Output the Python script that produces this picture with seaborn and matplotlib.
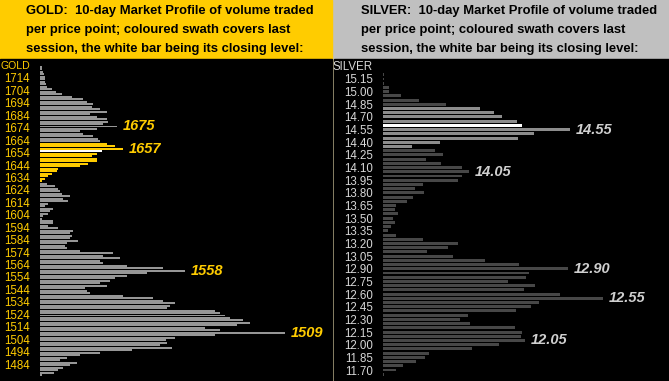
import numpy as np
import pandas as pd
import seaborn as sns
import matplotlib.pyplot as plt
from matplotlib.patches import Rectangle

# gold: volume per $2 price level, top to bottom
gold_levels = list(range(1723, 1474, -2))
gold_volume = [2, 2, 3, 4, 5, 5, 5, 6, 7, 12,
               16, 22, 32, 43, 47, 53, 52, 60, 67, 50,
               57, 67, 68, 63, 77, 57, 40, 43, 53, 58,
               60, 67, 75, 83, 62, 57, 52, 57, 57, 48,
               40, 18, 17, 12, 8, 5, 2, 7, 15, 18,
               20, 22, 30, 23, 28, 8, 5, 13, 10, 8,
               3, 2, 13, 13, 8, 18, 33, 30, 32, 30,
               38, 27, 25, 27, 40, 73, 63, 80, 60, 63,
               87, 123, 145, 107, 87, 75, 70, 60, 67, 45,
               47, 50, 83, 113, 123, 135, 130, 127, 175, 180,
               185, 190, 203, 210, 197, 165, 180, 245, 175, 135,
               126, 127, 120, 132, 92, 60, 40, 27, 20, 37,
               30, 23, 18, 14, 2]
gold_swath = (1631, 1661)
gold_close = 1655
gold_ticks = list(range(1714, 1483, -10))
gold_peaks = [1675, 1657, 1559, 1509]
gold_peak_text = ["1675", "1657", "1558", "1509"]

# silver: volume per 5c price level, top to bottom
silver_levels = [round(v / 100, 2) for v in range(1520, 1164, -5)]
silver_volume = [1, 1, 1, 6, 6, 18, 36, 63, 97, 111,
                 119, 134, 139, 187, 151, 135, 57, 29, 52, 60,
                 43, 58, 79, 86, 79, 75, 40, 32, 41, 30,
                 24, 13, 12, 15, 10, 12, 8, 5, 13, 40,
                 75, 65, 44, 70, 102, 136, 185, 146, 143, 125,
                 152, 141, 177, 220, 156, 148, 133, 85, 77, 87,
                 132, 139, 138, 142, 116, 89, 46, 42, 33, 20,
                 13, 1]
silver_swath = (14.35, 14.80)
silver_close = 14.60
silver_ticks = [round(v / 100, 2) for v in range(1515, 1169, -15)]
silver_peaks = [14.55, 14.05, 12.90, 12.55, 12.05]
silver_peak_text = ["14.55", "14.05", "12.90", "12.55", "12.05"]

W, H = 669, 381
plt.rcParams['font.family'] = ['Liberation Sans', 'DejaVu Sans']
fig = plt.figure(figsize=(W / 100, H / 100), dpi=100, facecolor="#c0c0c0")


def px(x, y):
    return x / W, 1 - y / H


# backgrounds (behind the axes)
fig.patches.append(Rectangle((0, 0), 332 / W, 1, transform=fig.transFigure, color="#ffcc00", zorder=-2))
fig.patches.append(Rectangle((0, 0), 332 / W, 1 - 59 / H, transform=fig.transFigure, color="black", zorder=-1))
fig.patches.append(Rectangle((334 / W, 0), 335 / W, 1 - 59 / H, transform=fig.transFigure, color="black", zorder=-1))

title_lines = ["10-day Market Profile of volume traded",
               "per price point; coloured swath covers last",
               "session, the white bar being its closing level:"]
for name, x0 in [("GOLD:  ", 26), ("SILVER:  ", 361)]:
    for i, line in enumerate(title_lines):
        fig.text(*px(x0, 11 + i * 19), (name + line) if i == 0 else line,
                 fontsize=9.4, fontweight="bold", color="black", va="center", ha="left")


def kinds(levels, swath, close):
    out = []
    for p in levels:
        if abs(p - close) < 1e-6:
            out.append("close")
        elif swath[0] - 1e-6 <= p <= swath[1] + 1e-6:
            out.append("swath")
        else:
            out.append("rest")
    return out


# gold panel
df_gold = pd.DataFrame({"price": gold_levels, "vol": gold_volume,
                        "kind": kinds(gold_levels, gold_swath, gold_close)})
ax1 = fig.add_axes([40 / W, 0, 292 / W, 1 - 59 / H])
sns.barplot(data=df_gold, x="vol", y="price", hue="kind", orient="y", native_scale=True,
            palette={"rest": "#969696", "swath": "#ffcc00", "close": "white"},
            dodge=False, width=0.8, saturation=1, linewidth=0, errorbar=None, legend=False, ax=ax1)
ax1.set_xlim(0, 292)
ax1.set_ylim(1484 - 17 / 1.2435, 1714 + 19 / 1.2435)
ax1.set_yticks(gold_ticks)
ax1.set_yticklabels([str(t) for t in gold_ticks], color="#ffcc00", fontsize=8.3)
ax1.tick_params(axis="y", length=0, pad=7)
ax1.set_xticks([])
ax1.set_xlabel("")
ax1.set_ylabel("")
ax1.set_facecolor("none")
for s in ax1.spines.values():
    s.set_visible(False)
ax1.text(-10, 1714 + 12 / 1.2435, "GOLD", ha="right", va="center", color="#ffcc00", fontsize=7.6)
for p, t in zip(gold_peaks, gold_peak_text):
    v = gold_volume[gold_levels.index(p)]
    ax1.annotate(t, (v, p), xytext=(4, 0), textcoords="offset points", ha="left", va="center",
                 color="#ffcc00", fontsize=10.5, fontweight="bold", fontstyle="italic")

# silver panel
df_silver = pd.DataFrame({"price": silver_levels, "vol": silver_volume,
                          "kind": kinds(silver_levels, silver_swath, silver_close)})
ax2 = fig.add_axes([383 / W, 0, 286 / W, 1 - 59 / H])
sns.barplot(data=df_silver, x="vol", y="price", hue="kind", orient="y", native_scale=True,
            palette={"rest": "#474747", "swath": "#8c8c8c", "close": "white"},
            dodge=False, width=0.7, saturation=1, linewidth=0, errorbar=None, legend=False, ax=ax2)
ax2.set_xlim(0, 286)
ax2.set_ylim(11.70 - 11 / 84.35, 15.15 + 20 / 84.35)
ax2.set_yticks(silver_ticks)
ax2.set_yticklabels([f"{t:.2f}" for t in silver_ticks], color="#d8d8d8", fontsize=8.3)
ax2.tick_params(axis="y", length=0, pad=7)
ax2.set_xticks([])
ax2.set_xlabel("")
ax2.set_ylabel("")
ax2.set_facecolor("none")
for s in ax2.spines.values():
    s.set_visible(False)
ax2.text(-10, 15.15 + 12 / 84.35, "SILVER", ha="right", va="center", color="#d8d8d8", fontsize=8.3)
for p, t in zip(silver_peaks, silver_peak_text):
    v = silver_volume[silver_levels.index(p)]
    ax2.annotate(t, (v, p), xytext=(4, 0), textcoords="offset points", ha="left", va="center",
                 color="#cfcfcf", fontsize=10.5, fontweight="bold", fontstyle="italic")

fig.savefig("out.png", dpi=100, facecolor=fig.get_facecolor())
